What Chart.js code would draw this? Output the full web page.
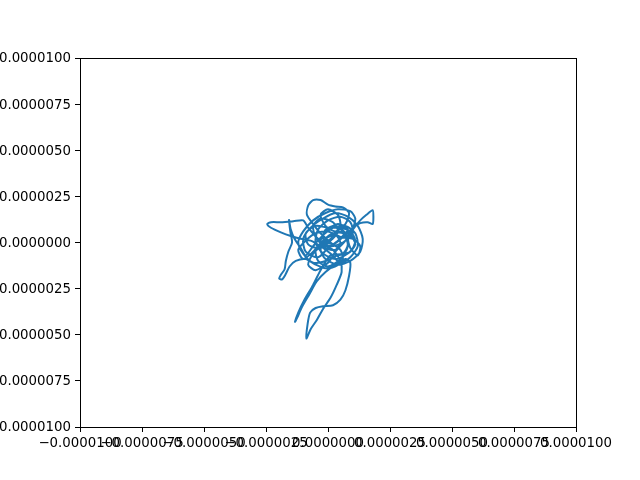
<!DOCTYPE html>
<html>
<head>
<meta charset="utf-8">
<script src="https://cdn.jsdelivr.net/npm/chart.js@4"></script>
<style>
html,body{margin:0;padding:0;background:#fff;}
#wrap{width:640px;height:480px;}
</style>
</head>
<body>
<div id="wrap"><canvas id="c" width="640" height="480"></canvas></div>
<script>
// trajectory values, in units of 1e-6
const UNIT = 1e-6;
const pathX = [0.1,0.5,0.9,1.1,0.8,0.3,-0.2,-0.5,-0.4,0.0,0.5,0.9,1.0,0.6,0.1,-0.4,-0.8,-1.0,
  -1.4,-1.9,-2.3,-2.45,-2.3,-1.9,-1.5,-1.1,-0.7,-0.3,0.1,0.5,0.9,1.2,1.1,0.7,0.2,-0.2,-0.6,-0.9,-1.1,
  -1.35,-1.5,-1.57,-1.52,-1.45,-1.6,-1.7,-1.75,-1.9,-1.97,-1.85,-1.72,-1.55,-1.3,-0.9,-0.5,-0.1,0.3,0.6,0.5,0.1,-0.3,-0.6,
  -0.85,-0.8,-0.6,-0.3,0.0,0.3,0.6,0.85,0.7,0.3,-0.1,-0.3,0.0,0.4,0.5,0.2,-0.2,-0.6,-0.8,-0.5,0.0,0.3,0.7,1.0,
  1.3,1.55,1.8,1.83,1.8,1.6,1.3,1.0,0.8,0.9,1.2,1.3,1.0,0.5,0.0,-0.5,-0.9,-1.2,-1.0,-0.6,-0.2,0.2,0.6,0.8,0.6,0.1,
  -0.3,-0.6,-0.95,-1.2,-1.33,-1.25,-1.05,-0.75,-0.45,-0.1,0.3,0.7,
  0.9,0.85,0.7,0.5,0.2,-0.2,-0.5,-0.72,-0.82,-0.87,-0.7,-0.45,-0.2,0.1,0.35,0.55,0.5,0.2,-0.3,-0.1,0.4,0.8,0.4,
  0.0,-0.4,-0.9,-1.0,-0.7,-0.2,0.3,0.8,1.2,1.4,1.3,0.9,0.4,-0.1,-0.3,-0.1,0.3,0.5,0.3,-0.1,
  -0.5,-0.6,-0.3,0.2,0.4,0.1,-0.4,-0.8,-0.9,-0.5,0.0,0.5,0.9,1.1,0.9,0.4,-0.1,-0.6,-1.0,-1.2,
  -1.0,-0.6,-0.1,0.4,0.9,1.1,1.0,0.6,0.2,-0.2,-0.1,0.3,0.7,0.8,0.5,0.0,-0.4,-0.5,-0.2,0.2];
const pathY = [0.2,0.6,0.4,-0.1,-0.6,-0.9,-0.6,0.0,0.7,1.2,1.4,1.1,0.5,0.0,-0.2,0.2,0.8,1.2,
  1.15,1.1,1.1,1.0,0.8,0.55,0.35,0.2,0.1,-0.2,-0.6,-1.1,-0.8,-0.2,0.5,0.9,0.8,0.4,-0.2,-0.7,-0.3,
  0.2,0.7,1.22,0.6,0.0,-0.5,-1.0,-1.45,-1.75,-1.95,-2.0,-1.75,-1.3,-1.0,-0.9,-1.2,-1.4,-1.3,-0.9,-0.4,0.0,0.5,1.0,
  1.5,2.0,2.3,2.3,2.05,1.95,1.9,1.6,1.0,0.6,0.9,1.5,1.8,1.5,0.9,0.3,-0.1,-0.6,-1.2,-1.5,-1.1,-0.5,0.1,0.7,
  1.2,1.5,1.75,1.4,1.0,1.1,1.05,0.8,0.3,-0.3,-0.7,-0.2,0.2,0.3,0.6,0.5,0.1,-0.4,-0.9,-0.5,0.1,0.5,0.5,-0.1,-0.6,-0.7,
  -1.5,-2.3,-3.1,-3.8,-4.3,-4.1,-3.5,-2.8,-2.1,-1.6,-1.2,-0.9,
  -1.1,-1.8,-2.6,-3.1,-3.4,-3.45,-3.55,-3.8,-4.4,-5.2,-4.7,-4.2,-3.6,-3.0,-2.3,-1.6,-1.0,-0.4,0.0,0.6,1.0,0.7,0.1,
  -0.3,-0.8,-0.5,0.2,0.8,1.3,1.6,1.4,0.9,0.2,-0.5,-1.0,-1.2,-0.9,-0.4,0.2,0.4,0.0,-0.4,-0.3,
  0.3,0.9,1.3,1.1,0.6,0.1,-0.3,-0.1,0.5,0.9,0.8,0.8,0.6,0.1,-0.5,-0.7,-1.0,-1.1,-0.6,0.0,
  0.6,1.2,1.6,1.8,1.7,1.3,0.8,0.3,-0.1,0.2,0.7,0.9,0.5,-0.2,-0.9,-1.3,-1.0,-0.4,0.0,0.2];
const tickValues = [-1.0e-5,-7.5e-6,-5.0e-6,-2.5e-6,0,2.5e-6,5.0e-6,7.5e-6,1.0e-5];

const points = pathX.map((x,i)=>({x:x*UNIT, y:pathY[i]*UNIT}));

function fmt(v){
  const s = Math.abs(v).toFixed(7);
  return (v < -1e-12 ? '\u2212' : '') + s;
}

const frame = {
  id:'frame',
  beforeDraw(chart){
    const ctx=chart.ctx; ctx.save(); ctx.fillStyle='#fff'; ctx.fillRect(0,0,chart.width,chart.height); ctx.restore();
  },
  afterDraw(chart){
    const a=chart.chartArea, ctx=chart.ctx;
    ctx.save(); ctx.strokeStyle='#000'; ctx.lineWidth=1;
    ctx.strokeRect(Math.round(a.left)+0.5, Math.round(a.top)+0.5, Math.round(a.right-a.left), Math.round(a.bottom-a.top));
    ctx.restore();
  }
};

const axisCommon = {
  type:'linear', min:-1e-5, max:1e-5,
  afterBuildTicks(scale){ scale.ticks = tickValues.map(v=>({value:v})); },
  grid:{display:true, drawOnChartArea:false, drawTicks:true, tickLength:5, color:'#000', lineWidth:1},
  border:{display:true, color:'#000', width:1},
  ticks:{autoSkip:false, maxRotation:0, minRotation:0, padding:4, color:'#000',
    font:{family:'DejaVu Sans', size:13.33}, callback:(v)=>fmt(v)}
};

new Chart(document.getElementById('c'), {
  type:'scatter',
  data:{datasets:[{data:points, showLine:true, pointRadius:0, borderColor:'#1f77b4', borderWidth:2, tension:0.25, fill:false}]},
  plugins:[frame],
  options:{
    responsive:false, animation:false, devicePixelRatio:1,
    layout:{padding:{top:58,right:64,left:0,bottom:0}},
    plugins:{legend:{display:false}, tooltip:{enabled:false}},
    scales:{
      x:Object.assign({}, axisCommon, {position:'bottom', afterFit(s){s.height=53;}}),
      y:Object.assign({}, axisCommon, {position:'left', afterFit(s){s.width=80;},
        ticks:Object.assign({}, axisCommon.ticks, {labelOffset:1})})
    }
  }
});
</script>
</body>
</html>
